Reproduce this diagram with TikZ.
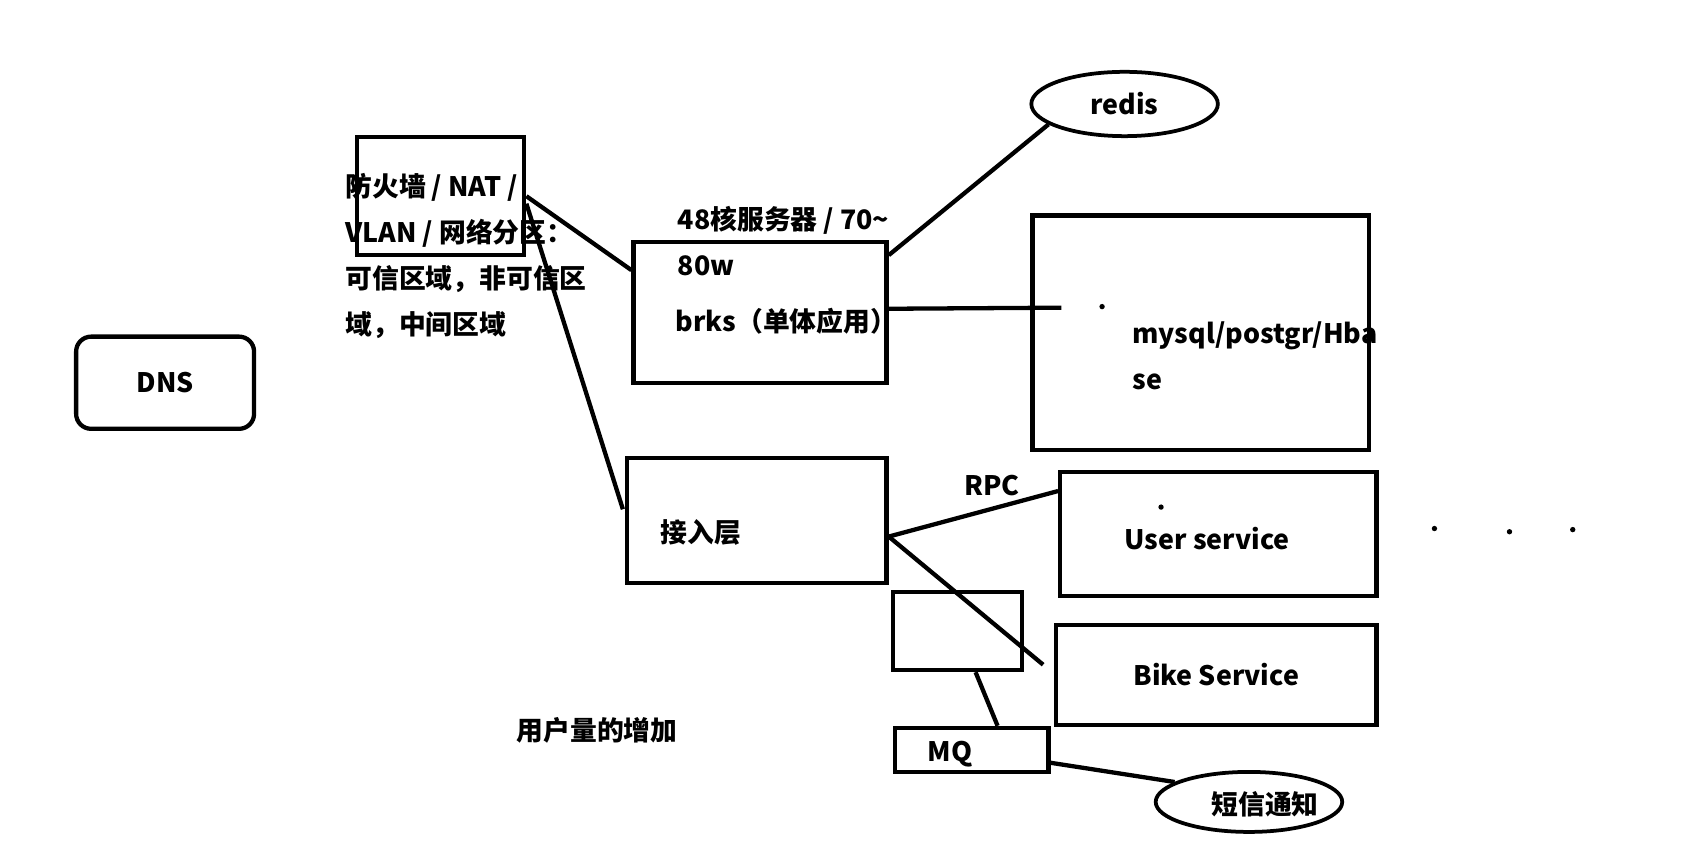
\documentclass[tikz,border=0pt]{standalone}
\usepackage{fontspec}
\setmainfont{Noto Sans CJK SC}[BoldFont={* Black}]
\usepackage{tikz}
\usetikzlibrary{shapes.geometric}
\tikzset{
    tnode/.style = {align=left, inner sep=0pt, font=\bfseries\fontsize{25}{43}\selectfont},
    box/.style = {rectangle, draw=black, line width=4pt, inner sep=0pt},
    rbox/.style = {box, rounded corners=14pt},
    oval/.style = {ellipse, draw=black, line width=3.5pt, inner sep=0pt},
    wire/.style = {-, line width=4pt},
    spot/.style = {circle, fill=black, inner sep=0pt, minimum size=5pt}
}

\begin{document}
\begin{tikzpicture}[x=1pt, y=-1pt]
    \useasboundingbox (0,0) rectangle (1568,808);
    \node [rbox, tnode, minimum width=166pt, minimum height=86pt] (dns) at (154,357) {DNS};
    \node [box, minimum width=156pt, minimum height=110pt] (fw) at (411,183) {};
    \node [tnode, anchor=west] (fwtxt) at (322,238.5) {防火墙 / NAT /\\VLAN / 网络分区：\\可信区域，非可信区\\域，中间区域};
    \node [box, minimum width=236pt, minimum height=131pt] (brks) at (709,291.5) {};
    \node [tnode, anchor=west] (brkscap) at (632,225) {48核服务器 / 70\textasciitilde\\80w};
    \node [tnode, anchor=west] (brksname) at (630,300) {brks（单体应用）};
    \node [box, minimum width=242pt, minimum height=117pt] (gate) at (706,485.5) {};
    \node [tnode, anchor=west] (gatetxt) at (616,497) {接入层};
    \node [oval, tnode, minimum width=174pt, minimum height=60pt] (redis) at (1049,97) {redis};
    \node [box, minimum width=314pt, minimum height=219pt] (db) at (1120,310.5) {};
    \node [tnode, anchor=west] (dbtxt) at (1056,331.5) {mysql/postgr/Hba\\se};
    \node [box, minimum width=295pt, minimum height=116pt] (user) at (1136.5,498) {};
    \node [tnode] (usertxt) at (1126,502) {User service};
    \node [box, tnode, minimum width=299pt, minimum height=93pt] (bike) at (1134.5,629.5) {Bike Service};
    \node [box, minimum width=120pt, minimum height=73pt] (mqbuf) at (893,588.5) {};
    \node [box, minimum width=143pt, minimum height=41pt] (mq) at (906.5,699.5) {};
    \node [tnode] (mqtxt) at (886,703) {MQ};
    \node [oval, minimum width=174pt, minimum height=56pt] (sms) at (1165,748) {};
    \node [tnode] (smstxt) at (1180,750) {短信通知};
    \node [tnode] (rpc) at (925,453) {RPC};
    \node [tnode] (growth) at (557,681) {用户量的增加};

    \coordinate (gatein) at (581,475);
    \coordinate (dbin) at (990,287);
    \coordinate (bikein) at (973,620);

    \draw [wire] (fw.east) -- ([yshift=-28pt]brks.north west);
    \draw [wire] ([yshift=-7pt]fw.east) -- (gatein);
    \draw [wire] ([yshift=-14pt]brks.north east) -- (redis.195);
    \draw [wire] ([yshift=3.5pt]brks.east) -- (dbin);
    \draw [wire] ([yshift=-15pt]gate.east) -- ([yshift=-20pt]user.north west);
    \draw [wire] ([yshift=-15pt]gate.east) -- (bikein);
    \draw [wire] ([xshift=17pt]mqbuf.south) -- ([xshift=24pt]mq.north);
    \draw [wire] ([yshift=-12pt]mq.east) -- (sms.165);

    \node [spot] (dbdot) at (1028,286) {};
    \node [spot] (userdot) at (1083,473) {};
    \foreach \x/\y [count=\i] in {1338/493, 1408/496, 1467/494}
        \node [spot] (more\i) at (\x,\y) {};
\end{tikzpicture}
\end{document}
